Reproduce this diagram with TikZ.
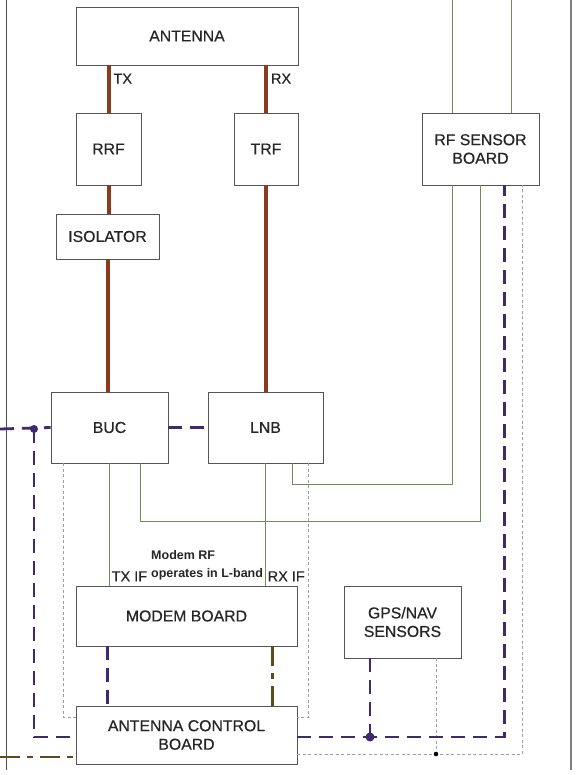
\documentclass[tikz,border=0pt]{standalone}
\usepackage{fontspec}
\setmainfont{Liberation Sans}
\newfontfamily\heavyfont[FakeBold=0.5]{Liberation Sans}
\usetikzlibrary{positioning,calc}

\definecolor{rfbrown}{HTML}{8B3A1E}
\definecolor{ifgreen}{HTML}{6E8F58}
\definecolor{ctlpurple}{HTML}{3E2A6E}
\definecolor{pwrbrown}{HTML}{5E4A1C}
\definecolor{boxgray}{HTML}{555555}

\begin{document}
\begin{tikzpicture}[
  x=1pt, y=-1pt,
  every node/.style = {text=black!85},
  box/.style   = {draw=boxgray, line width=0.9pt, fill=white, inner sep=0pt,
                  align=center, font=\heavyfont\fontsize{15.8}{18.5}\selectfont},
  rfline/.style  = {rfbrown, line width=4pt},
  ifline/.style  = {ifgreen, line width=0.9pt},
  ctlline/.style = {ctlpurple, line width=2.8pt, dash pattern=on 14pt off 8pt},
  pwrline/.style = {pwrbrown, line width=2.8pt, dash pattern=on 20pt off 7pt on 6pt off 7pt},
  gndline/.style = {gray!75, line width=1pt, dash pattern=on 3pt off 2.5pt},
  lbl/.style     = {font=\heavyfont\fontsize{14.5}{16}\selectfont, inner sep=1pt},
]
\useasboundingbox (0,0) rectangle (576,775);

% ── Frame ───────────────────────────────────────────────────────────────────
\draw[black!70, line width=0.9pt] (6,0) -- (6,770);
\draw[gray, line width=2pt]       (571,0) -- (571,770);

% ── Blocks ──────────────────────────────────────────────────────────────────
\node[box, minimum width=222, minimum height=58] (antenna)  at (187,36)    {ANTENNA};
\node[box, minimum width=65,  minimum height=72] (rrf)      at (108.5,149) {RRF};
\node[box, minimum width=64,  minimum height=72] (trf)      at (266,149)   {TRF};
\node[box, minimum width=103, minimum height=45] (isolator) at (107.5,236.5) {ISOLATOR};
\node[box, minimum width=117, minimum height=72] (rfsensor) at (480.5,149) {RF SENSOR\\BOARD};
\node[box, minimum width=117, minimum height=71] (buc)      at (109.5,427.5) {BUC};
\node[box, minimum width=115, minimum height=71] (lnb)      at (265.5,427.5) {LNB};
\node[box, minimum width=221, minimum height=60] (modem)    at (186.5,616) {MODEM BOARD};
\node[box, minimum width=117, minimum height=72] (gps)      at (402.5,622) {GPS/NAV\\SENSORS};
\node[box, minimum width=221, minimum height=58] (acb)      at (186.5,735) {ANTENNA CONTROL\\BOARD};

% free ends and junctions
\coordinate (topA)  at (452,0);
\coordinate (topB)  at (511,0);
\coordinate (leftA) at (0,429);
\coordinate (leftB) at (0,757);
\coordinate (jA)    at (34,429);
\coordinate (jB)    at (370,737);
\coordinate (jC)    at (436,754);

% ── RF chain (thick brown) ──────────────────────────────────────────────────
\draw[rfline] (antenna.south -| rrf) -- (rrf.north)
  node[lbl, pos=0.28, right=2pt] (tx) {TX};
\draw[rfline] (antenna.south -| trf) -- (trf.north)
  node[lbl, pos=0.28, right=2pt] (rx) {RX};
\draw[rfline] (rrf.south) -- (rrf.south |- isolator.north);
\draw[rfline] (isolator.south) -- (isolator.south |- buc.north);
\draw[rfline] (trf.south) -- (trf.south |- lnb.north);

% ── IF / sensor lines (green) ───────────────────────────────────────────────
\draw[ifline] (topA) -- (topA |- rfsensor.north);
\draw[ifline] (topB) -- (topB |- rfsensor.north);
\draw[ifline] (rfsensor.south -| topA) -- ++(0,299) -| ([xshift=-31pt]lnb.south east);
\draw[ifline] (rfsensor.south) -- ++(0,336) -| ([xshift=-28pt]buc.south east);
\draw[ifline] (buc.south) -- (buc.south |- modem.north);
\draw[ifline] (lnb.south) -- (lnb.south |- modem.north);

\node[lbl, anchor=south west] (txif) at ([xshift=1pt, yshift=3pt]buc.south |- modem.north) {TX IF};
\node[lbl, anchor=south west] (rxif) at ([xshift=1pt, yshift=3pt]lnb.south |- modem.north) {RX IF};
\node[align=left, anchor=west, inner sep=0pt, font=\bfseries\fontsize{12.5}{18}\selectfont]
  (ifnote) at (151,565) {Modem RF\\operates in L-band};

% ── Ground / shield (gray dotted) ───────────────────────────────────────────
\draw[gndline] ([xshift=13pt]buc.south west) |- ([yshift=-12pt]acb.north west);
\draw[gndline] ([xshift=-15pt]lnb.south east) |- ([yshift=-12pt]acb.north east);
\draw[gndline] ([yshift=-19pt]acb.east) -| ([xshift=-17pt]rfsensor.south east);
\draw[gndline] (gps.south -| jC) -- (jC);
\fill[black] (jC) circle (2.3);

% ── Control bus (purple dashed) ─────────────────────────────────────────────
\draw[ctlline] (leftA) -- (buc.west);
\draw[ctlline] (jA) |- ([yshift=-2pt]acb.west);
\draw[ctlline] (buc.east) -- (lnb.west);
\draw[ctlline] (modem.south -| isolator) -- (acb.north -| isolator);
\draw[ctlline] ([yshift=-2pt]acb.east) -| ([xshift=-35pt]rfsensor.south east);
\draw[ctlline] (gps.south -| jB) -- (jB);
\fill[ctlpurple] (jA) circle (4);
\fill[ctlpurple] (jB) circle (4.5);

% ── Power (brown dash-dot) ──────────────────────────────────────────────────
\draw[pwrline] ([xshift=-25pt]modem.south east) -- ([xshift=-25pt]acb.north east);
\draw[pwrline] (leftB) -- ([yshift=-22pt]acb.west);

\end{tikzpicture}
\end{document}
